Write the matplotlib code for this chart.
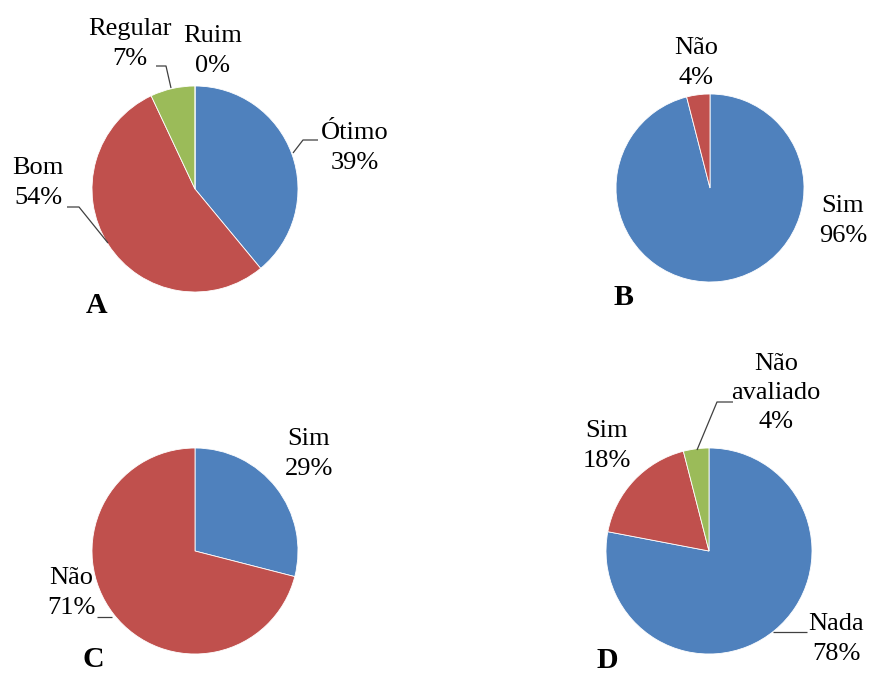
import matplotlib
matplotlib.use("Agg")
import matplotlib.pyplot as plt

# Survey results, four pie panels
a_labels = ["Ótimo", "Bom", "Regular", "Ruim"]
a_values = [39, 54, 7, 0]

b_labels = ["Sim", "Não"]
b_values = [96, 4]

c_labels = ["Sim", "Não"]
c_values = [29, 71]

d_labels = ["Nada", "Sim", "Não\navaliado"]
d_values = [78, 18, 4]

panel_letters = ["A", "B", "C", "D"]

BLUE, RED, GREEN = "#4F81BD", "#C0504D", "#9BBB59"
LINE = "#404040"
W, H = 869, 673

plt.rcParams["font.family"] = ["Liberation Serif", "DejaVu Serif"]

fig = plt.figure(figsize=(W / 100, H / 100), dpi=100)
ax = fig.add_axes([0, 0, 1, 1])


def Y(y):
    """Convert a top-down pixel row to data y."""
    return H - y


def draw_pie(values, colors, cx, cy, r):
    ax.pie(values, colors=colors, center=(cx, Y(cy)), radius=r,
           startangle=90, counterclock=False,
           wedgeprops=dict(edgecolor="white", linewidth=0.6))


def label(text, x, y, value):
    ax.text(x, Y(y), f"{text}\n{value}%", ha="center", va="center",
            fontsize=19, color="black", linespacing=1.42)


def leader(xs, ys):
    ax.plot(xs, [Y(v) for v in ys], color=LINE, lw=0.9, solid_capstyle="butt")


# Panel A
draw_pie(a_values, [BLUE, RED, GREEN, "#8064A2"], 195, 189, 103)
label(a_labels[0], 355, 148, a_values[0])
label(a_labels[1], 38, 183, a_values[1])
label(a_labels[2], 130, 44, a_values[2])
label(a_labels[3], 213, 51, a_values[3])
leader([318, 303, 293], [140, 140, 153])
leader([67, 79, 108], [207, 207, 243])
leader([156, 166, 171], [66, 66, 88])

# Panel B
draw_pie(b_values, [BLUE, RED], 710, 188, 94)
label(b_labels[0], 843, 221, b_values[0])
label(b_labels[1], 696, 63, b_values[1])

# Panel C
draw_pie(c_values, [BLUE, RED], 195, 551, 103)
label(c_labels[0], 309, 454, c_values[0])
label(c_labels[1], 71, 593, c_values[1])
leader([97, 112], [617, 617])

# Panel D
draw_pie(d_values, [BLUE, RED, GREEN], 709, 551, 103)
label(d_labels[0], 836, 639, d_values[0])
label(d_labels[1], 607, 446, d_values[1])
label(d_labels[2], 776, 393, d_values[2])
leader([807, 773], [632, 632])
leader([733, 717, 697], [402, 402, 450])

# Panel letters
for letter, (x, y) in zip(panel_letters, [(97, 313), (623, 305), (93, 667), (607, 668)]):
    ax.text(x, Y(y), letter, ha="center", va="baseline",
            fontsize=21.5, fontweight="bold", color="black")

ax.set_xlim(0, W)
ax.set_ylim(0, H)
ax.set_aspect("auto")
ax.axis("off")

fig.savefig("out.png", dpi=100, facecolor="white")
